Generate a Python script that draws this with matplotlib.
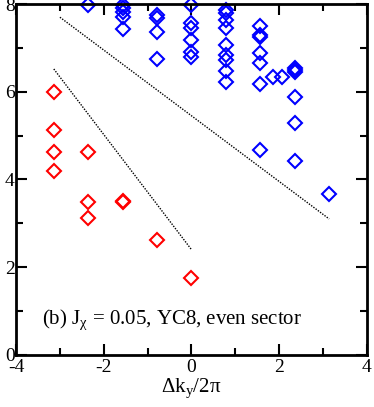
import numpy as np
import matplotlib
matplotlib.use("Agg")
import matplotlib.pyplot as plt

plt.rcParams['font.family'] = ['Liberation Serif', 'DejaVu Serif']
plt.rcParams['mathtext.fontset'] = 'custom'
plt.rcParams['mathtext.rm'] = 'Liberation Serif'
plt.rcParams['mathtext.it'] = 'Liberation Serif:italic'
plt.rcParams['axes.unicode_minus'] = False

# red: low-lying levels
red_x = [-3.14, -3.14, -3.14, -3.14, -2.36, -2.36, -2.36, -1.57, -1.57, -0.79, 0.0]
red_y = [5.99, 5.13, 4.62, 4.19, 4.62, 3.49, 3.12, 3.49, 3.51, 2.62, 1.75]

# blue: continuum levels
blue_x = [-2.36,
          -1.57, -1.57, -1.57, -1.57, -1.57,
          -0.79, -0.79, -0.79, -0.79,
          0.0, 0.0, 0.0, 0.0, 0.0, 0.0,
          0.79, 0.79, 0.79, 0.79, 0.79, 0.79, 0.79, 0.79, 0.79,
          1.57, 1.57, 1.57, 1.57, 1.57, 1.57, 1.57,
          1.87, 2.07,
          2.36, 2.36, 2.36, 2.36, 2.36, 2.36,
          3.14]
blue_y = [7.98,
          7.97, 7.90, 7.81, 7.70, 7.43,
          7.74, 7.68, 7.36, 6.74,
          7.97, 7.56, 7.45, 7.18, 6.90, 6.79,
          7.86, 7.79, 7.63, 7.45, 7.06, 6.83, 6.72, 6.47, 6.22,
          7.49, 7.29, 7.24, 6.88, 6.65, 6.17, 4.67,
          6.33, 6.33,
          6.54, 6.49, 6.45, 5.88, 5.29, 4.42,
          3.67]

# dotted guide lines
line1_x = [-3.0, 3.14]
line1_y = [7.70, 3.10]
line2_x = [-3.14, 0.0]
line2_y = [6.52, 2.40]

fig = plt.figure(figsize=(3.74, 4.07), dpi=100)
ax = fig.add_axes([0.043, 0.128, 0.938, 0.862])

ax.plot(line1_x, line1_y, color='black', linestyle=(0, (1, 1)), lw=1.0)
ax.plot(line2_x, line2_y, color='black', linestyle=(0, (1, 1)), lw=1.0)

ax.plot(red_x, red_y, linestyle='none', marker='D', ms=6.8, mfc='none',
        mec='#ff0000', mew=1.5, clip_on=False)
ax.plot(blue_x, blue_y, linestyle='none', marker='D', ms=6.8, mfc='none',
        mec='#0000ff', mew=1.5, clip_on=False)

ax.set_xlim(-4, 4)
ax.set_ylim(0, 8)
ax.set_xticks([-4, -2, 0, 2, 4])
ax.set_xticks([-3, -1, 1, 3], minor=True)
ax.set_yticks([0, 2, 4, 6, 8])
ax.set_yticks([1, 3, 5, 7], minor=True)
ax.tick_params(which='both', direction='in', top=True, right=True,
               labelsize=14, width=1.5)
ax.tick_params(which='major', length=8)
ax.tick_params(which='minor', length=5)
ax.tick_params(axis='y', pad=1)
ax.tick_params(axis='x', pad=3)
for s in ax.spines.values():
    s.set_linewidth(2)

ax.set_xlabel('Δk$_\\mathrm{y}$/2π', fontsize=15, labelpad=0)
ax.text(-3.4, 0.8, '(b) J$_\\mathrm{χ}$ = 0.05, YC8, even sector', fontsize=15,
        va='center', ha='left')

fig.savefig('out.png', dpi=100)
